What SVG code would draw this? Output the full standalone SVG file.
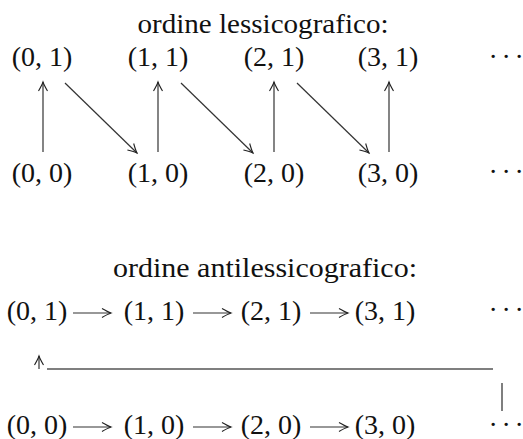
<svg xmlns="http://www.w3.org/2000/svg" width="523" height="439" viewBox="0 0 523 439">
<style>
  text { font-family: "Liberation Serif", "Times New Roman", serif; font-size: 28px; fill: #111; }
  .n { text-anchor: middle; }
  .c { stroke: #333; stroke-width: 1.2; fill: none; }
  .g { stroke: #555; stroke-width: 1.5; fill: none; }
</style>
<defs>
  <marker id="ah" markerUnits="userSpaceOnUse" markerWidth="12" markerHeight="12" viewBox="-10 -6 12 12" refX="0" refY="0" orient="auto">
    <path d="M-9,-4.5 Q-3,-1 0,0 Q-3,1 -9,4.5" stroke="#222" stroke-width="1.1" fill="none"/>
  </marker>
</defs>
<rect width="523" height="439" fill="#fff"/>

<text x="263" y="33" class="n" textLength="251" lengthAdjust="spacingAndGlyphs">ordine lessicografico:</text>

<g id="a01"><text x="42" y="66" class="n">(0, 1)</text></g>
<g id="a11"><text x="158" y="66" class="n">(1, 1)</text></g>
<g id="a21"><text x="274" y="66" class="n">(2, 1)</text></g>
<g id="a31"><text x="388" y="66" class="n">(3, 1)</text></g>
<g id="adots1"><text x="488.5 501.5 514.5" y="66">···</text></g>
<g id="a00"><text x="42" y="182" class="n">(0, 0)</text></g>
<g id="a10"><text x="158" y="182" class="n">(1, 0)</text></g>
<g id="a20"><text x="274" y="182" class="n">(2, 0)</text></g>
<g id="a30"><text x="388" y="182" class="n">(3, 0)</text></g>
<g id="adots0"><text x="488.5 501.5 514.5" y="181">···</text></g>

<g id="connectors-lex">
  <line class="c" x1="43" y1="152" x2="43" y2="82" marker-end="url(#ah)"/>
  <line class="c" x1="158" y1="152" x2="158" y2="82" marker-end="url(#ah)"/>
  <line class="c" x1="274" y1="152" x2="274" y2="82" marker-end="url(#ah)"/>
  <line class="c" x1="389" y1="152" x2="389" y2="82" marker-end="url(#ah)"/>
  <line class="c" x1="65" y1="83" x2="137" y2="153" marker-end="url(#ah)"/>
  <line class="c" x1="181" y1="83" x2="253" y2="153" marker-end="url(#ah)"/>
  <line class="c" x1="297" y1="83" x2="369" y2="153" marker-end="url(#ah)"/>
</g>

<text x="265" y="277" class="n" textLength="304" lengthAdjust="spacingAndGlyphs">ordine antilessicografico:</text>

<g id="b01"><text x="37" y="320" class="n">(0, 1)</text></g>
<g id="b11"><text x="154" y="320" class="n">(1, 1)</text></g>
<g id="b21"><text x="271" y="320" class="n">(2, 1)</text></g>
<g id="b31"><text x="385" y="320" class="n">(3, 1)</text></g>
<g id="bdots1"><text x="488.5 501.5 514.5" y="319">···</text></g>
<g id="b00"><text x="37" y="434" class="n">(0, 0)</text></g>
<g id="b10"><text x="154" y="434" class="n">(1, 0)</text></g>
<g id="b20"><text x="271" y="434" class="n">(2, 0)</text></g>
<g id="b30"><text x="385" y="434" class="n">(3, 0)</text></g>
<g id="bdots0"><text x="488.5 501.5 514.5" y="434">···</text></g>

<g id="connectors-antilex">
  <line class="c" x1="73" y1="313" x2="111" y2="313" marker-end="url(#ah)"/>
  <line class="c" x1="193" y1="313" x2="231" y2="313" marker-end="url(#ah)"/>
  <line class="c" x1="310" y1="313" x2="348" y2="313" marker-end="url(#ah)"/>
  <line class="c" x1="73" y1="427" x2="111" y2="427" marker-end="url(#ah)"/>
  <line class="c" x1="193" y1="427" x2="231" y2="427" marker-end="url(#ah)"/>
  <line class="c" x1="310" y1="427" x2="348" y2="427" marker-end="url(#ah)"/>
  <line class="c" x1="39" y1="369" x2="39" y2="356" marker-end="url(#ah)"/>
  <line class="g" x1="47" y1="369" x2="493" y2="369"/>
  <line class="g" x1="502" y1="383" x2="502" y2="411"/>
</g>
</svg>
